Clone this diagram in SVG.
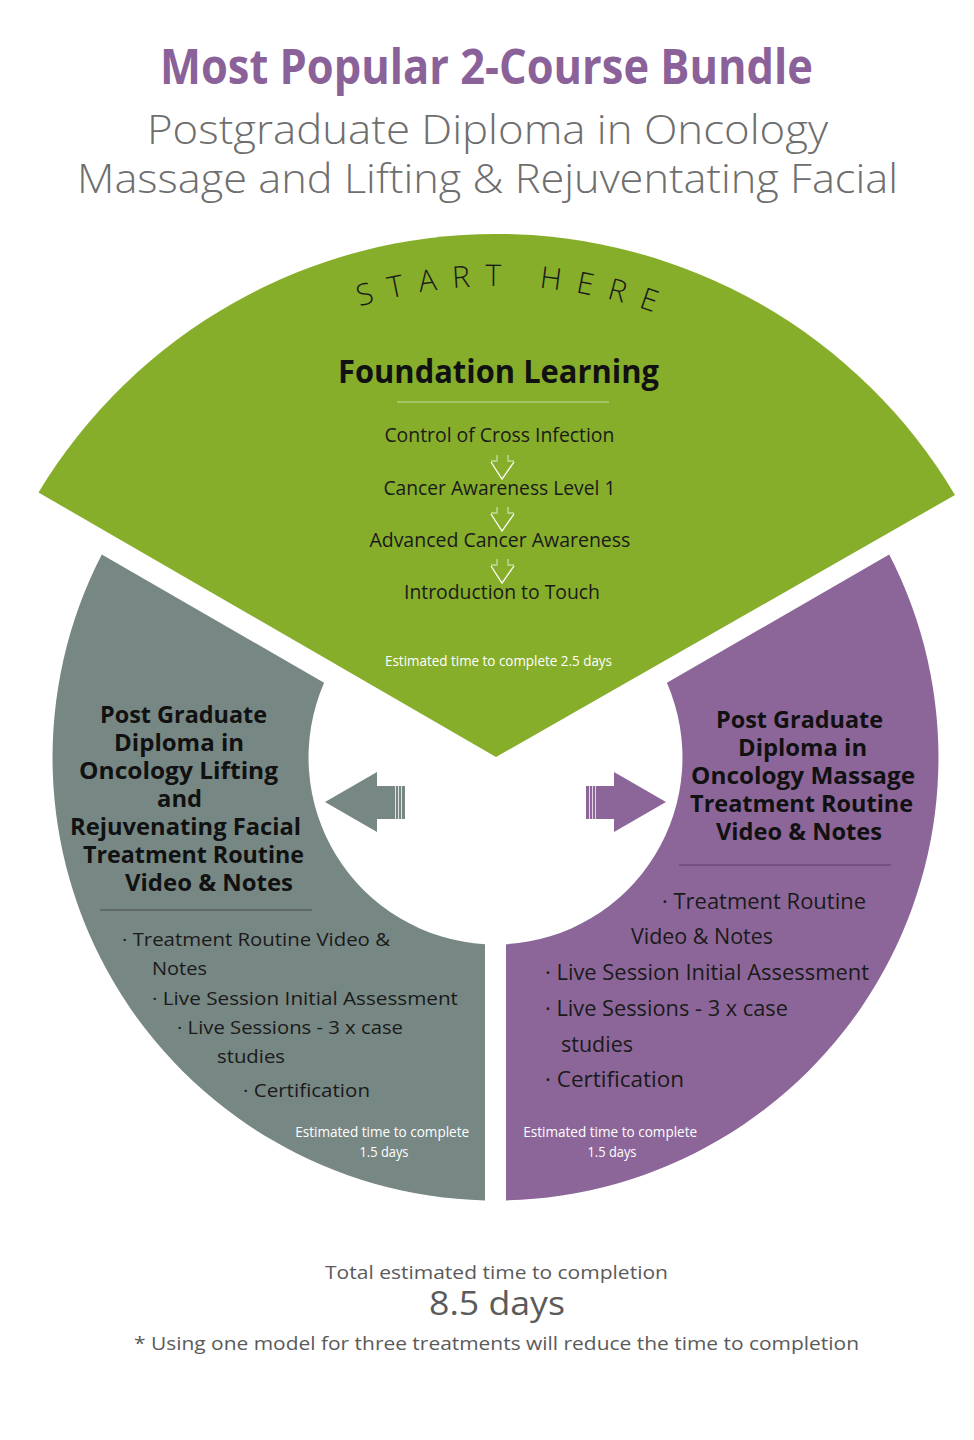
<svg xmlns="http://www.w3.org/2000/svg" width="974" height="1440" viewBox="0 0 974 1440">
<defs>
<style>
.t{font-family:"Open Sans","Liberation Sans",sans-serif;}
.title{font-size:48px;font-weight:700;fill:#8a6198;}
.sub{font-size:41px;font-weight:300;fill:#6e6e6e;}
.start{font-size:30px;font-weight:300;fill:#1a1a1a;letter-spacing:15px;}
.fl{font-size:32px;font-weight:700;fill:#111;}
.item{font-size:20px;fill:#1a1a1a;}
.est{font-size:14px;fill:#ffffff;}
.head{font-size:22.5px;font-weight:700;fill:#111;}
.bl{font-size:19px;fill:#1a1a1a;}
.br{font-size:21px;fill:#1a1a1a;}
.foot{font-size:19px;fill:#5a5a5a;}
.big{font-size:33px;fill:#5a5a5a;}
.da{fill:none;stroke:#ffffff;stroke-width:1.3;}
.stripe{stroke:#ffffff;stroke-width:1;opacity:0.75;}
</style>
<path id="arc" d="M 194 397 A 472 472 0 0 1 802 397"/>
</defs>
<rect width="974" height="1440" fill="#ffffff"/>

<g id="title">
<text class="t title" x="486.5" y="84" text-anchor="middle" textLength="653" lengthAdjust="spacingAndGlyphs">Most Popular 2-Course Bundle</text>
<text class="t sub" x="487.5" y="144" text-anchor="middle" textLength="681" lengthAdjust="spacingAndGlyphs">Postgraduate Diploma in Oncology</text>
<text class="t sub" x="487.5" y="193" text-anchor="middle" textLength="821" lengthAdjust="spacingAndGlyphs">Massage and Lifting &amp; Rejuventating Facial</text>
</g>

<g id="node-lifting">
<path d="M 485 1200.4 A 443 443 0 0 1 101.8 554.5 L 324.1 682.8 A 187 187 0 0 0 485 944.2 Z" fill="#778784"/>
<text class="t head" text-anchor="middle">
<tspan x="186.5" y="723" textLength="167" lengthAdjust="spacingAndGlyphs">Post Graduate</tspan>
<tspan x="182" y="751" textLength="130" lengthAdjust="spacingAndGlyphs">Diploma in</tspan>
<tspan x="181.5" y="779" textLength="199" lengthAdjust="spacingAndGlyphs">Oncology Lifting</tspan>
<tspan x="182.5" y="807" textLength="45" lengthAdjust="spacingAndGlyphs">and</tspan>
<tspan x="188.5" y="835" textLength="231" lengthAdjust="spacingAndGlyphs">Rejuvenating Facial</tspan>
<tspan x="196.5" y="863" textLength="221" lengthAdjust="spacingAndGlyphs">Treatment Routine</tspan>
<tspan x="209" y="891" textLength="168" lengthAdjust="spacingAndGlyphs">Video &amp; Notes</tspan>
</text>
<line x1="100" y1="910" x2="312" y2="910" stroke="#4a4f4e" stroke-width="1"/>
<text class="t bl">
<tspan x="122" y="946" textLength="268" lengthAdjust="spacingAndGlyphs">· Treatment Routine Video &amp;</tspan>
<tspan x="152" y="975" textLength="55" lengthAdjust="spacingAndGlyphs">Notes</tspan>
<tspan x="152" y="1005" textLength="306" lengthAdjust="spacingAndGlyphs">·  Live Session Initial Assessment</tspan>
<tspan x="177" y="1034" textLength="226" lengthAdjust="spacingAndGlyphs">·  Live Sessions - 3 x case</tspan>
<tspan x="217" y="1063" textLength="68" lengthAdjust="spacingAndGlyphs">studies</tspan>
<tspan x="243" y="1097" textLength="127" lengthAdjust="spacingAndGlyphs">· Certification</tspan>
</text>
<text class="t est" text-anchor="middle">
<tspan x="384" y="1137" textLength="174" lengthAdjust="spacingAndGlyphs">Estimated time to complete</tspan>
<tspan x="384" y="1157" textLength="49" lengthAdjust="spacingAndGlyphs">1.5 days</tspan>
</text>
</g>

<g id="node-massage">
<path d="M 506 1200.4 A 443 443 0 0 0 889.2 554.5 L 666.9 682.8 A 187 187 0 0 1 506 944.2 Z" fill="#8c6699"/>
<text class="t head" text-anchor="middle">
<tspan x="802.5" y="728" textLength="167" lengthAdjust="spacingAndGlyphs">Post Graduate</tspan>
<tspan x="805.5" y="756" textLength="129" lengthAdjust="spacingAndGlyphs">Diploma in</tspan>
<tspan x="806" y="784" textLength="224" lengthAdjust="spacingAndGlyphs">Oncology Massage</tspan>
<tspan x="804.5" y="812" textLength="223" lengthAdjust="spacingAndGlyphs">Treatment Routine</tspan>
<tspan x="799" y="840" textLength="166" lengthAdjust="spacingAndGlyphs">Video &amp; Notes</tspan>
</text>
<line x1="679" y1="865" x2="891" y2="865" stroke="#5a3f66" stroke-width="1"/>
<text class="t br">
<tspan x="662" y="909" textLength="204" lengthAdjust="spacingAndGlyphs">· Treatment Routine</tspan>
<tspan x="631" y="944" textLength="142" lengthAdjust="spacingAndGlyphs">Video &amp; Notes</tspan>
<tspan x="545" y="980" textLength="324" lengthAdjust="spacingAndGlyphs">·  Live Session Initial Assessment</tspan>
<tspan x="545" y="1016" textLength="243" lengthAdjust="spacingAndGlyphs">·  Live Sessions - 3 x case</tspan>
<tspan x="561" y="1052" textLength="72" lengthAdjust="spacingAndGlyphs">studies</tspan>
<tspan x="545" y="1087" textLength="139" lengthAdjust="spacingAndGlyphs">·  Certification</tspan>
</text>
<text class="t est" text-anchor="middle">
<tspan x="612" y="1137" textLength="174" lengthAdjust="spacingAndGlyphs">Estimated time to complete</tspan>
<tspan x="612" y="1157" textLength="49" lengthAdjust="spacingAndGlyphs">1.5 days</tspan>
</text>
</g>

<g id="node-foundation">
<path d="M 496 757 L 38.5 492.5 A 534 534 0 0 1 955 495 Z" fill="#86ae2b"/>
<text class="t start"><textPath href="#arc" startOffset="52.5%" text-anchor="middle">START HERE</textPath></text>
<text class="t fl" x="498.5" y="383" text-anchor="middle" textLength="321" lengthAdjust="spacingAndGlyphs">Foundation Learning</text>
<line x1="397" y1="402" x2="609" y2="402" stroke="#c8dc9e" stroke-width="1"/>
<text class="t item" text-anchor="middle">
<tspan x="502" y="442" textLength="230" lengthAdjust="spacingAndGlyphs">Control of Cross Infection</tspan>
<tspan x="502" y="495" textLength="232" lengthAdjust="spacingAndGlyphs">Cancer Awareness Level 1</tspan>
<tspan x="502.5" y="547" textLength="261" lengthAdjust="spacingAndGlyphs">Advanced Cancer Awareness</tspan>
<tspan x="502" y="599" textLength="196" lengthAdjust="spacingAndGlyphs">Introduction to Touch</tspan>
</text>
<text class="t est" x="498.5" y="666" text-anchor="middle" textLength="227" lengthAdjust="spacingAndGlyphs">Estimated time to complete 2.5 days</text>
</g>

<g id="connectors">
<g>
<path class="da" d="M 491 462 L 502 479 L 514 462"/>
<path class="da" opacity="0.55" d="M 497 455 L 497 461 L 491 461 M 508 455 L 508 461 L 514 461"/>
</g>
<g>
<path class="da" d="M 491 514 L 502 531 L 514 514"/>
<path class="da" opacity="0.55" d="M 497 507 L 497 513 L 491 513 M 508 507 L 508 513 L 514 513"/>
</g>
<g>
<path class="da" d="M 491 566 L 502 583 L 514 566"/>
<path class="da" opacity="0.55" d="M 497 559 L 497 565 L 491 565 M 508 559 L 508 565 L 514 565"/>
</g>
<g id="arrow-left">
<path d="M 325 802 L 377 772 L 377 786 L 405 786 L 405 819 L 377 819 L 377 832 Z" fill="#778784"/>
<line class="stripe" x1="395.5" y1="786" x2="395.5" y2="819"/>
<line class="stripe" x1="398.5" y1="786" x2="398.5" y2="819"/>
<line class="stripe" x1="401.5" y1="786" x2="401.5" y2="819"/>
</g>
<g id="arrow-right">
<path d="M 666 802 L 614 772 L 614 786 L 586 786 L 586 819 L 614 819 L 614 832 Z" fill="#8c6699"/>
<line class="stripe" x1="589.5" y1="786" x2="589.5" y2="819"/>
<line class="stripe" x1="592.5" y1="786" x2="592.5" y2="819"/>
<line class="stripe" x1="595.5" y1="786" x2="595.5" y2="819"/>
</g>
</g>

<g id="footer">
<text class="t foot" x="496.5" y="1279" text-anchor="middle" textLength="343" lengthAdjust="spacingAndGlyphs">Total estimated time to completion</text>
<text class="t big" x="497" y="1315" text-anchor="middle" textLength="136" lengthAdjust="spacingAndGlyphs">8.5 days</text>
<text class="t foot" x="496.5" y="1350" text-anchor="middle" textLength="725" lengthAdjust="spacingAndGlyphs">* Using one model for three treatments will reduce the time to completion</text>
</g>
</svg>
